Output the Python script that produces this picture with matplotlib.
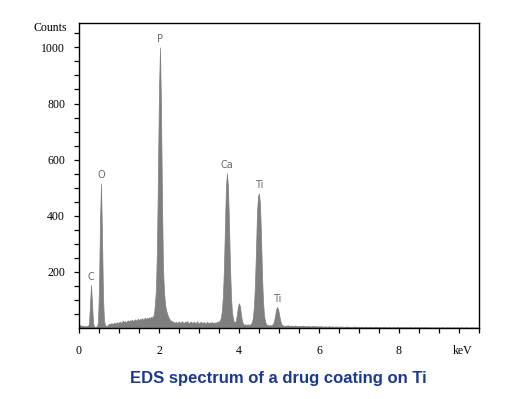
import matplotlib

matplotlib.use("Agg")
import matplotlib.pyplot as plt
import numpy as np

# EDS spectrum, one value per 0.025 keV channel (0 .. 9.975 keV)
CHANNEL_KEV = 0.025
counts = [
    8, 10, 9, 8, 7, 7, 6, 6, 7, 8,             # 0.00
    15, 85, 153, 90, 18, 5, 4, 5, 6, 20,       # 0.25  C
    140, 380, 515, 330, 110, 25, 10, 7, 8, 12,  # 0.50  O
    15, 13, 17, 16, 14, 19, 18, 15, 21, 17,
    20, 23, 18, 22, 26, 21, 24, 19, 25, 27,    # 1.00
    23, 28, 25, 30, 24, 27, 31, 26, 29, 33,
    28, 32, 30, 35, 29, 33, 37, 31, 36, 34,    # 1.50
    38, 33, 40, 36, 42, 48, 90, 140, 290, 560,
    850, 1000, 780, 450, 210, 130, 85, 65, 52, 42,  # 2.00  P
    34, 29, 26, 24, 22, 21, 19, 22, 18, 20,
    23, 17, 21, 24, 19, 18, 22, 20, 25, 19,    # 2.50
    17, 21, 23, 18, 20, 22, 17, 19, 24, 18,
    16, 20, 22, 17, 19, 21, 16, 18, 22, 19,    # 3.00
    17, 20, 18, 21, 19, 17, 20, 18, 22, 21,
    24, 28, 38, 65, 120, 220, 370, 510, 551, 500,   # 3.50  Ca
    370, 220, 110, 55, 32, 21, 19, 28, 50, 78,
    88, 76, 48, 24, 15, 12, 13, 11, 12, 13,    # 4.00
    11, 12, 15, 22, 40, 80, 160, 280, 410, 470,
    480, 440, 330, 190, 95, 45, 24, 15, 11, 10,     # 4.50  Ti
    9, 10, 9, 11, 15, 24, 42, 64, 75, 68,
    50, 30, 16, 10, 9, 8, 7, 9, 8, 10,         # 5.00
    7, 8, 9, 7, 8, 6, 9, 7, 8, 6,
    7, 8, 6, 7, 9, 6, 7, 5, 8, 6,              # 5.50
    7, 6, 5, 7, 6, 8, 5, 6, 7, 5,
    6, 5, 7, 5, 4, 6, 5, 6, 4, 5,              # 6.00
    7, 5, 4, 6, 5, 4, 5, 6, 4, 5,
    5, 4, 6, 4, 5, 3, 5, 4, 6, 4,              # 6.50
    4, 5, 3, 4, 5, 4, 6, 3, 4, 5,
    4, 3, 5, 4, 3, 4, 5, 3, 4, 4,              # 7.00
    3, 5, 4, 3, 4, 3, 4, 5, 3, 4,
    3, 4, 3, 2, 4, 3, 3, 4, 2, 3,              # 7.50
    4, 3, 2, 3, 4, 3, 2, 3, 3, 4,
    2, 3, 3, 2, 4, 3, 2, 3, 3, 2,              # 8.00
    3, 4, 2, 3, 2, 3, 3, 2, 4, 2,
    3, 2, 3, 3, 2, 3, 2, 4, 2, 3,              # 8.50
    2, 3, 2, 2, 3, 2, 3, 2, 2, 3,
    2, 2, 3, 2, 3, 2, 2, 2, 3, 2,              # 9.00
    2, 3, 2, 2, 2, 3, 2, 2, 3, 2,
    2, 2, 3, 2, 2, 2, 2, 3, 2, 2,              # 9.50
    2, 2, 2, 3, 2, 2, 2, 2, 2, 2,
]

peak_labels = ["C", "O", "P", "Ca", "Ti", "Ti"]
peak_kev = [0.30, 0.55, 2.03, 3.70, 4.51, 4.95]
peak_counts = [153, 515, 1000, 551, 480, 75]

energy = np.arange(len(counts)) * CHANNEL_KEV

fig = plt.figure(figsize=(5.29, 3.99), dpi=100)
ax = fig.add_axes([79 / 529, 71 / 399, 400 / 529, 305 / 399])

ax.fill_between(energy, counts, facecolor="#7f7f7f", edgecolor="#7f7f7f", lw=0.5)

for lab, x, y in zip(peak_labels, peak_kev, peak_counts):
    ax.text(x, y + 12, lab, ha="center", va="bottom", fontsize=7,
            color="#6a6a6a", family="DejaVu Sans")

ax.set_xlim(0, 10)
ax.set_ylim(0, 1087)
ax.set_xticks([0, 2, 4, 6, 8])
ax.set_xticks(np.arange(0, 10.01, 0.5), minor=True)
ax.set_yticks([200, 400, 600, 800, 1000])
ax.set_yticks(np.arange(50, 1051, 50), minor=True)

serif = "Liberation Serif"
for lbl in ax.get_xticklabels() + ax.get_yticklabels():
    lbl.set_family(serif)
ax.tick_params(axis="both", which="both", direction="out", length=3.5, width=0.9,
               labelsize=8.5)
ax.tick_params(axis="x", pad=9)
ax.tick_params(axis="y", pad=6.5)
for s in ax.spines.values():
    s.set_linewidth(1.0)

ax.annotate("keV", xy=(9.58, 0), xycoords=("data", "axes fraction"),
            xytext=(0, -12.5), textcoords="offset points", ha="center", va="top",
            fontsize=8.5, family=serif)
ax.annotate("Counts", xy=(0, 1), xycoords="axes fraction", xytext=(-8.5, -3.5),
            textcoords="offset points", ha="right", va="center",
            fontsize=8.5, family=serif)

fig.text(278 / 529, 21 / 399, "EDS spectrum of a drug coating on Ti", ha="center",
         va="center", fontsize=12, fontweight="bold", color="#1b3896",
         family="Liberation Sans")

fig.savefig("out.png", dpi=100)
